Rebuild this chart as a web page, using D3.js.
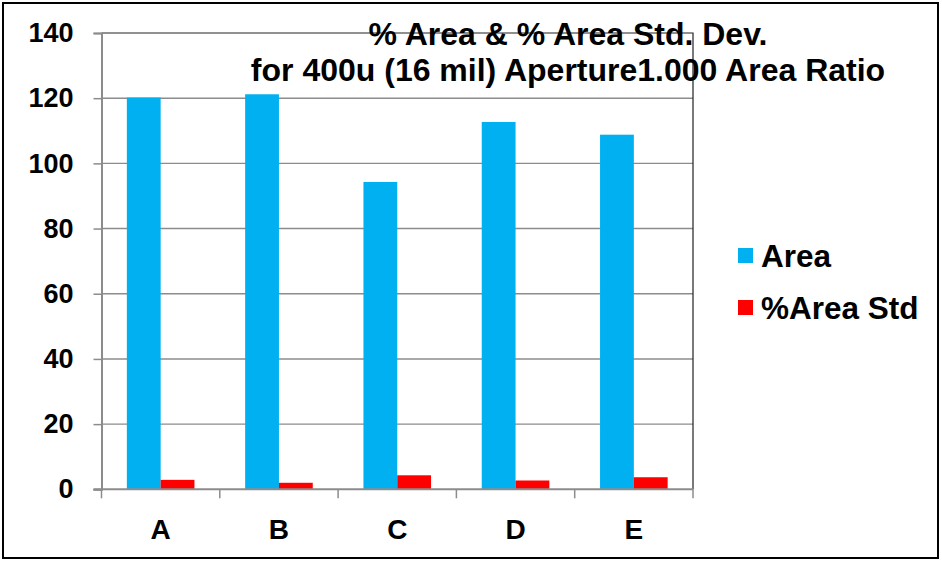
<!DOCTYPE html>
<html>
<head>
<meta charset="utf-8">
<script src="https://cdn.jsdelivr.net/npm/d3@7"></script>
<style>
  html, body { margin: 0; padding: 0; background: #fff; }
  svg { display: block; font-family: Arial, "Liberation Sans", sans-serif; font-weight: bold; }
</style>
</head>
<body>
<svg id="chart" width="942" height="562"></svg>
<script>
// Chart data
const categories = ["A", "B", "C", "D", "E"];
const areaValues = [120.2, 121.2, 94.3, 112.7, 108.8];
const areaStdValues = [2.9, 2.0, 4.3, 2.7, 3.7];
const seriesNames = ["Area", "%Area Std"];
const seriesColors = ["#00B0F0", "#FF0000"];
const yTicks = [0, 20, 40, 60, 80, 100, 120, 140];
const titleLines = ["% Area & % Area Std. Dev.", "for 400u (16 mil) Aperture1.000 Area Ratio"];

const rows = categories.map((c, i) => ({ cat: c, vals: [areaValues[i], areaStdValues[i]] }));

const svg = d3.select("#chart");
const plot = { left: 101.5, right: 693, top: 33, bottom: 489.3 };

// Outer frame
svg.append("rect")
  .attr("x", 3).attr("y", 3).attr("width", 935).attr("height", 555)
  .attr("fill", "#fff").attr("stroke", "#000").attr("stroke-width", 2);

const y = d3.scaleLinear().domain([0, 140]).range([plot.bottom, plot.top]);
const x0 = d3.scaleBand().domain(categories).range([plot.left, plot.right]).padding(0);
// Excel-style gap width of 75% between clusters
const groupW = x0.bandwidth() / 1.75;
const x1 = d3.scaleBand().domain([0, 1]).range([0, groupW]).padding(0);

// Horizontal gridlines
svg.append("g")
  .selectAll("line")
  .data(yTicks.filter(t => t > 0 && t < 140))
  .join("line")
  .attr("x1", plot.left).attr("x2", plot.right)
  .attr("y1", d => y(d)).attr("y2", d => y(d))
  .attr("stroke", "#8c8c8c").attr("stroke-width", 1.4);

// Plot border (top and right)
svg.append("path")
  .attr("d", `M${plot.left},${y(140)}H${plot.right}V${plot.bottom}`)
  .attr("fill", "none").attr("stroke", "#222").attr("stroke-width", 1.2);

// Bars
const groups = svg.append("g").selectAll("g")
  .data(rows)
  .join("g")
  .attr("transform", d => `translate(${x0(d.cat) + (x0.bandwidth() - groupW) / 2},0)`);

groups.selectAll("rect")
  .data(d => d.vals.map((v, i) => ({ v, i })))
  .join("rect")
  .attr("x", d => x1(d.i))
  .attr("width", x1.bandwidth())
  .attr("y", d => y(d.v))
  .attr("height", d => y(0) - y(d.v))
  .attr("fill", d => seriesColors[d.i]);

// Y axis
const yAxis = svg.append("g")
  .attr("transform", `translate(${plot.left},0)`)
  .call(d3.axisLeft(y).tickValues(yTicks).tickSize(8).tickPadding(20).tickFormat(d3.format("d")));
yAxis.select(".domain").attr("stroke", "#8c8c8c").attr("stroke-width", 2);
yAxis.selectAll(".tick line").attr("stroke", "#8c8c8c").attr("stroke-width", 1.5);
yAxis.selectAll(".tick text")
  .attr("font-size", 27).attr("font-weight", "bold").attr("fill", "#000")
  .attr("font-family", "Arial, 'Liberation Sans', sans-serif");

// X axis: ticks on cluster boundaries
const xAxisG = svg.append("g");
xAxisG.append("line")
  .attr("x1", plot.left - 8).attr("x2", plot.right)
  .attr("y1", plot.bottom).attr("y2", plot.bottom)
  .attr("stroke", "#8c8c8c").attr("stroke-width", 2);
const boundaries = categories.map(c => x0(c)).concat([x0(categories[categories.length - 1]) + x0.bandwidth()]);
xAxisG.selectAll("line.tk")
  .data(boundaries)
  .join("line").attr("class", "tk")
  .attr("x1", d => d).attr("x2", d => d)
  .attr("y1", plot.bottom).attr("y2", plot.bottom + 9)
  .attr("stroke", "#8c8c8c").attr("stroke-width", 1.5);
xAxisG.selectAll("text")
  .data(categories)
  .join("text")
  .attr("x", d => x0(d) + x0.bandwidth() / 2)
  .attr("y", 539)
  .attr("text-anchor", "middle")
  .attr("font-size", 28)
  .text(d => d);

// Title
svg.append("g").selectAll("text")
  .data(titleLines)
  .join("text")
  .attr("x", 568)
  .attr("y", (d, i) => 45 + i * 36)
  .attr("text-anchor", "middle")
  .attr("font-size", 32)
  .text(d => d);

// Legend
const legend = svg.append("g").selectAll("g")
  .data(seriesNames)
  .join("g")
  .attr("transform", (d, i) => `translate(738,${248 + i * 52})`);
legend.append("rect")
  .attr("width", 15).attr("height", 15)
  .attr("fill", (d, i) => seriesColors[i]);
legend.append("text")
  .attr("x", 23).attr("y", 19)
  .attr("font-size", 31.5)
  .text(d => d);
</script>
</body>
</html>
